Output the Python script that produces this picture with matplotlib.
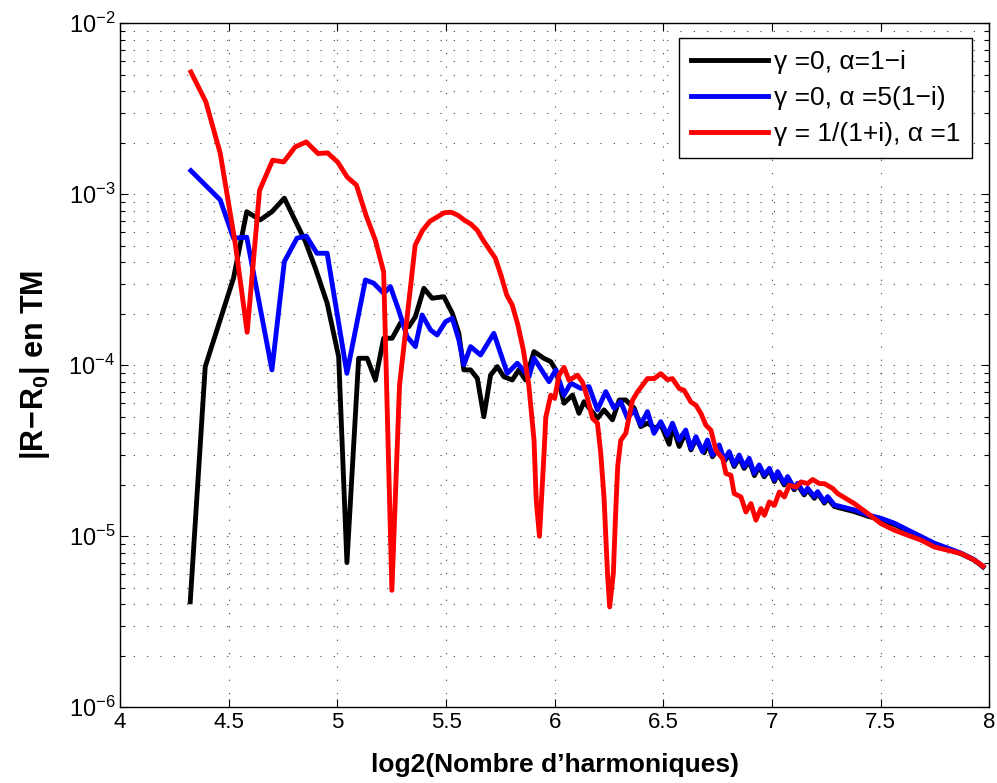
import numpy as np
import matplotlib
matplotlib.use('Agg')
import matplotlib.pyplot as plt
from matplotlib.ticker import MultipleLocator, LogLocator, NullFormatter, FuncFormatter

# --- 1. DATA (x = log2(nombre d'harmoniques), exponents of |R-R0|) ---
black_x = [4.323, 4.392, 4.522, 4.583, 4.645, 4.699, 4.756, 4.853, 4.899, 4.953,
           5.006, 5.044, 5.098, 5.137, 5.175, 5.213, 5.252, 5.290, 5.329, 5.359,
           5.398, 5.436, 5.490, 5.529, 5.559, 5.582, 5.613, 5.644, 5.674, 5.705,
           5.736, 5.766, 5.805, 5.835, 5.866, 5.905, 5.950, 5.982, 6.005, 6.043,
           6.082, 6.112, 6.135, 6.197, 6.227, 6.266, 6.297, 6.327, 6.366, 6.396,
           6.427, 6.465, 6.488, 6.527, 6.542, 6.573, 6.603, 6.627, 6.650, 6.688,
           6.703, 6.726, 6.757, 6.780, 6.803, 6.826, 6.849, 6.872, 6.895, 6.919,
           6.941, 6.964, 6.988, 7.011, 7.026, 7.056, 7.072, 7.102, 7.118, 7.148,
           7.164, 7.195, 7.210, 7.241, 7.256, 7.287, 7.379, 7.441, 7.502, 7.564,
           7.625, 7.687, 7.748, 7.810, 7.871, 7.932, 7.971]
black_exp = [-5.383, -4.008, -3.491, -3.102, -3.150, -3.102, -3.023, -3.277, -3.433, -3.637,
             -3.950, -5.154, -3.959, -3.959, -4.086, -3.842, -3.842, -3.754, -3.774, -3.716,
             -3.550, -3.608, -3.599, -3.696, -3.813, -4.027, -4.027, -4.076, -4.301, -4.057,
             -4.008, -4.067, -4.086, -4.027, -4.086, -3.920, -3.959, -3.979, -4.027, -4.222,
             -4.174, -4.281, -4.213, -4.310, -4.261, -4.319, -4.203, -4.203, -4.251, -4.359,
             -4.339, -4.368, -4.345, -4.462, -4.352, -4.475, -4.392, -4.495, -4.432, -4.512,
             -4.452, -4.535, -4.480, -4.563, -4.520, -4.592, -4.540, -4.603, -4.560, -4.645,
             -4.592, -4.652, -4.612, -4.680, -4.632, -4.700, -4.660, -4.728, -4.700, -4.758,
             -4.728, -4.778, -4.748, -4.806, -4.778, -4.826, -4.856, -4.883, -4.903, -4.932,
             -4.968, -5.007, -5.045, -5.074, -5.103, -5.140, -5.179]

blue_x = [4.326, 4.461, 4.522, 4.583, 4.699, 4.756, 4.814, 4.857, 4.906, 4.953,
          5.044, 5.129, 5.167, 5.213, 5.244, 5.282, 5.321, 5.359, 5.390, 5.429,
          5.459, 5.498, 5.529, 5.559, 5.582, 5.613, 5.659, 5.720, 5.782, 5.828,
          5.882, 5.905, 5.974, 6.005, 6.043, 6.074, 6.120, 6.158, 6.197, 6.235,
          6.273, 6.304, 6.335, 6.365, 6.396, 6.427, 6.457, 6.488, 6.519, 6.542,
          6.572, 6.603, 6.627, 6.650, 6.680, 6.703, 6.726, 6.757, 6.780, 6.803,
          6.826, 6.849, 6.872, 6.895, 6.918, 6.941, 6.964, 6.988, 7.011, 7.026,
          7.056, 7.072, 7.102, 7.118, 7.148, 7.164, 7.195, 7.210, 7.241, 7.256,
          7.287, 7.379, 7.441, 7.502, 7.564, 7.625, 7.687, 7.748, 7.810, 7.871,
          7.932, 7.971]
blue_exp = [-2.862, -3.033, -3.257, -3.251, -4.027, -3.394, -3.257, -3.244, -3.345, -3.345,
            -4.047, -3.501, -3.520, -3.579, -3.540, -3.677, -3.833, -3.891, -3.706, -3.794,
            -3.823, -3.745, -3.725, -3.852, -3.998, -3.891, -3.940, -3.813, -4.047, -3.988,
            -4.067, -3.959, -4.096, -4.027, -4.174, -4.105, -4.135, -4.125, -4.261, -4.154,
            -4.251, -4.213, -4.310, -4.261, -4.349, -4.271, -4.398, -4.330, -4.408, -4.339,
            -4.437, -4.379, -4.486, -4.418, -4.505, -4.437, -4.525, -4.466, -4.554, -4.505,
            -4.583, -4.525, -4.593, -4.544, -4.632, -4.583, -4.642, -4.603, -4.671, -4.622,
            -4.690, -4.651, -4.719, -4.690, -4.749, -4.719, -4.768, -4.739, -4.798, -4.768,
            -4.817, -4.846, -4.875, -4.895, -4.924, -4.963, -5.002, -5.041, -5.070, -5.099,
            -5.138, -5.177]

red_x = [4.326, 4.395, 4.461, 4.530, 4.585, 4.642, 4.702, 4.753, 4.806, 4.857,
         4.911, 4.955, 5.001, 5.045, 5.088, 5.132, 5.175, 5.213, 5.251, 5.286,
         5.358, 5.392, 5.426, 5.459, 5.492, 5.524, 5.555, 5.585, 5.615, 5.644,
         5.671, 5.699, 5.727, 5.753, 5.780, 5.805, 5.831, 5.856, 5.881, 5.905,
         5.915, 5.930, 5.951, 5.959, 5.982, 6.000, 6.020, 6.043, 6.066, 6.105,
         6.128, 6.151, 6.174, 6.197, 6.212, 6.227, 6.243, 6.253, 6.270, 6.281,
         6.290, 6.304, 6.327, 6.358, 6.381, 6.427, 6.458, 6.488, 6.519, 6.542,
         6.573, 6.595, 6.627, 6.650, 6.673, 6.696, 6.719, 6.742, 6.773, 6.788,
         6.811, 6.826, 6.857, 6.880, 6.903, 6.926, 6.949, 6.965, 6.988, 7.011,
         7.034, 7.057, 7.080, 7.111, 7.134, 7.164, 7.187, 7.218, 7.241, 7.280,
         7.302, 7.379, 7.441, 7.502, 7.564, 7.625, 7.687, 7.748, 7.810, 7.871,
         7.932, 7.971]
red_exp = [-2.285, -2.460, -2.760, -3.287, -3.807, -2.977, -2.801, -2.811, -2.723, -2.694,
           -2.762, -2.758, -2.811, -2.899, -2.947, -3.123, -3.269, -3.454, -5.316, -4.117,
           -3.298, -3.211, -3.158, -3.133, -3.108, -3.105, -3.123, -3.152, -3.175, -3.211,
           -3.269, -3.322, -3.374, -3.474, -3.591, -3.649, -3.766, -3.912, -4.117, -4.439,
           -4.789, -5.000, -4.515, -4.304, -4.175, -4.193, -4.058, -4.012, -4.088, -4.058,
           -4.099, -4.193, -4.310, -4.339, -4.515, -4.772, -5.216, -5.413, -5.216, -4.848,
           -4.591, -4.439, -4.398, -4.205, -4.156, -4.078, -4.078, -4.049, -4.084, -4.078,
           -4.136, -4.146, -4.215, -4.234, -4.282, -4.351, -4.380, -4.497, -4.546, -4.633,
           -4.643, -4.750, -4.770, -4.858, -4.809, -4.906, -4.838, -4.877, -4.799, -4.819,
           -4.741, -4.770, -4.702, -4.712, -4.682, -4.692, -4.668, -4.692, -4.692, -4.721,
           -4.750, -4.809, -4.867, -4.926, -4.965, -4.994, -5.023, -5.063, -5.082, -5.101,
           -5.140, -5.175]

labels = ['γ =0, α=1−i', 'γ =0, α =5(1−i)', 'γ = 1/(1+i), α =1']

# --- 2. STYLE ---
plt.rcParams['font.family'] = ['Liberation Sans', 'DejaVu Sans']
plt.rcParams['mathtext.fontset'] = 'custom'
plt.rcParams['mathtext.rm'] = 'Liberation Sans'
plt.rcParams['mathtext.bf'] = 'Liberation Sans:bold'
plt.rcParams['mathtext.it'] = 'Liberation Sans:italic'

fig = plt.figure(figsize=(9.97, 7.83), dpi=100)
ax = fig.add_axes([0.1204, 0.0967, 0.8719, 0.8736])

# --- 3. CURVES ---
ax.semilogy(black_x, 10.0 ** np.array(black_exp), color='k', lw=3.5, label=labels[0])
ax.semilogy(blue_x, 10.0 ** np.array(blue_exp), color='b', lw=3.5, label=labels[1])
ax.semilogy(red_x, 10.0 ** np.array(red_exp), color='r', lw=3.5, label=labels[2])

ax.set_xlim(4, 8)
ax.set_ylim(1e-6, 1e-2)
ax.xaxis.set_major_locator(MultipleLocator(0.5))
ax.xaxis.set_major_formatter(FuncFormatter(lambda v, p: f'{v:g}'))
ax.yaxis.set_major_locator(LogLocator(base=10, numticks=10))
ax.yaxis.set_minor_locator(LogLocator(base=10, subs=np.arange(2, 10), numticks=20))
ax.yaxis.set_minor_formatter(NullFormatter())

dots = (0, (1, 11))
ax.grid(which='major', axis='both', color='0.25', lw=0.8, linestyle=dots)
ax.grid(which='minor', axis='y', color='0.25', lw=0.8, linestyle=dots)

ax.tick_params(which='both', direction='in', top=True, right=True, width=0.8, labelsize=16)
ax.tick_params(axis='y', labelsize=17)
ax.tick_params(which='major', length=6)
ax.tick_params(which='minor', length=3.5)
for s in ax.spines.values():
    s.set_linewidth(1.0)

ax.set_xlabel('log2(Nombre d’harmoniques)', fontsize=19, fontweight='bold', labelpad=14)
ax.set_ylabel(r'$\mathbf{|R\!-\!R_0|}$ en TM', fontsize=22, fontweight='bold', labelpad=12)

leg = ax.legend(loc='upper right', bbox_to_anchor=(0.9805, 0.978), borderaxespad=0,
                fancybox=False, edgecolor='k', framealpha=1, fontsize=19,
                handlelength=2.9, handletextpad=0.25, labelspacing=0.45, borderpad=0.45)
leg.get_frame().set_linewidth(1.0)

fig.savefig('out.png', dpi=100)
